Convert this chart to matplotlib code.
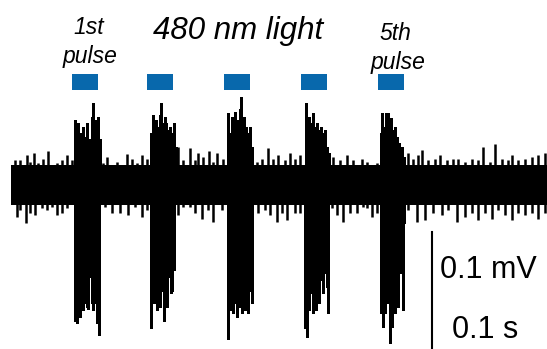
import matplotlib
matplotlib.use('Agg')
import matplotlib.pyplot as plt
import numpy as np

plt.rcParams['font.family'] = ['Liberation Sans', 'DejaVu Sans']

# time in ms, amplitude in uV (baseline = 0)
# noise band: peaks of the upper and lower edge
up_t = [1, 4, 9, 12, 16, 19, 23, 27, 32, 37, 41, 46, 51, 56, 61,
        92, 96, 101, 106, 111, 116, 121, 126, 131, 136,
        167, 172, 179, 184, 187, 192, 198, 202, 206, 212,
        246, 251, 257, 262, 267, 274, 279, 284, 289,
        322, 329, 336, 342, 351, 356, 361, 366,
        397, 402, 407, 411, 417, 424, 429, 436, 442, 447, 454, 461, 467,
        472, 479, 484, 491, 497, 501, 507, 514, 521, 527, 534]
up_v = [14, 21, 21, 15, 25, 19, 27, 18, 22, 28, 17, 18, 21, 25, 21,
        18, 23, 17, 19, 17, 26, 22, 18, 25, 22,
        32, 21, 31, 21, 27, 23, 28, 19, 27, 22,
        19, 22, 31, 22, 25, 21, 27, 22, 25,
        23, 21, 25, 21, 22, 19, 17, 18,
        27, 22, 25, 29, 21, 22, 25, 21, 22, 22, 19, 22, 21,
        32, 19, 34, 22, 21, 25, 21, 22, 23, 25, 27]
lo_t = [1, 6, 9, 15, 19, 24, 31, 36, 41, 46, 51, 56, 61,
        94, 101, 109, 117, 124, 131, 136,
        167, 172, 179, 184, 191, 197, 202, 211,
        247, 254, 259, 266, 271, 276, 284, 289,
        321, 326, 332, 339, 346, 352, 356, 361, 366,
        397, 406, 414, 422, 431, 437, 446, 454, 461, 467, 474, 481,
        487, 494, 501, 507, 514, 521, 527, 534]
lo_v = [-15, -27, -21, -32, -23, -25, -19, -21, -18, -25, -23, -19, -15,
        -18, -23, -23, -25, -18, -27, -21,
        -25, -18, -18, -23, -28, -21, -31, -21,
        -23, -21, -25, -31, -23, -29, -23, -23,
        -19, -25, -31, -23, -23, -18, -19, -27, -23,
        -21, -31, -29, -23, -25, -21, -31, -27, -23, -29, -23, -28,
        -21, -25, -29, -23, -25, -23, -28, -23]
core_top = 17           # solid part of the noise band
core_bot = -17
trace_end = 536

# spikes during the light pulses
spk_up_t = [64, 66, 67, 70, 72, 74, 76, 78, 81, 82, 84, 86, 87, 89,
            140, 142, 144, 145, 147, 149, 150, 152, 154, 155, 157, 159, 160, 163, 165,
            217, 219, 221, 222, 224, 226, 227, 229, 230, 232, 233, 235, 237, 239, 241,
            295, 296, 298, 301, 302, 304, 306, 307, 310, 312, 314, 316, 318,
            370, 371, 372, 375, 377, 380, 382, 384, 386, 388, 391, 393]
spk_up_v = [54, 38, 52, 43, 48, 40, 52, 38, 57, 68, 54, 48, 57, 38,
            43, 58, 46, 54, 48, 58, 68, 52, 57, 52, 46, 48, 43, 52, 32,
            60, 43, 57, 40, 61, 46, 54, 63, 73, 52, 57, 48, 43, 48, 32,
            68, 46, 57, 52, 60, 48, 52, 46, 48, 43, 46, 32, 27,
            43, 60, 48, 60, 60, 56, 46, 48, 40, 35, 32, 23]
spk_dn_t = [64, 66, 67, 69, 71, 72, 74, 76, 77, 79, 81, 82, 84, 86, 87, 88,
            140, 141, 143, 144, 146, 148, 149, 151, 153, 154, 156, 158, 160, 161, 163,
            217, 219, 221, 222, 224, 226, 227, 229, 231, 232, 234, 236, 237, 239, 241,
            294, 296, 298, 300, 302, 303, 305, 306, 308, 310, 312, 314, 316, 317,
            370, 372, 374, 376, 379, 381, 382, 384, 386, 387, 390, 392, 393]
spk_dn_v = [-113, -115, -93, -110, -88, -104, -98, -102, -103, -77, -98, -104, -98, -115, -46, -125,
            -119, -77, -98, -88, -104, -93, -102, -88, -113, -98, -102, -77, -90, -88, -71,
            -128, -104, -88, -107, -98, -110, -93, -102, -107, -88, -104, -93, -107, -88, -98,
            -119, -127, -104, -90, -107, -93, -104, -85, -98, -79, -90, -73, -85, -107,
            -107, -118, -107, -98, -132, -118, -90, -107, -79, -102, -73, -104, -32]
burst_start = [64, 140, 217, 294, 370]
burst_end = [89, 165, 241, 318, 393]
burst_top = 32
burst_bot = -33

# 480 nm light pulses
pulse_on = [61, 136, 213, 290, 367]
pulse_len = 26

fig = plt.figure(figsize=(5.47, 3.49), dpi=100)
ax = fig.add_axes([0, 0, 1, 1])
ax.set_xlim(-11, 536)
ax.set_ylim(-136.7, 154.2)
ax.axis('off')

# noise band: solid core + edge peaks
ax.fill_between([0, trace_end], core_bot, core_top, color='black', lw=0)
ax.vlines(up_t, 0, up_v, color='black', lw=1.8)
ax.vlines(lo_t, 0, lo_v, color='black', lw=1.8)

# bursts
for s, e in zip(burst_start, burst_end):
    ax.fill_between([s, e], burst_bot, burst_top, color='black', lw=0)
ax.vlines(spk_up_t, 0, spk_up_v, color='black', lw=0.8, antialiased=False)
ax.vlines(spk_dn_t, 0, spk_dn_v, color='black', lw=0.8, antialiased=False)

# pulse bars
ax.bar(pulse_on, 13.3, width=pulse_len, bottom=79.2, align='edge',
       color='#0868ac', edgecolor='none')

# scale bar (0.1 mV)
ax.plot([421, 421], [-39, -139], color='black', lw=1.5, clip_on=False)

fig.text(0.163, 0.920, '1st', ha='center', va='center', fontsize=16.5, style='italic')
fig.text(0.165, 0.837, 'pulse', ha='center', va='center', fontsize=16.5, style='italic')
fig.text(0.435, 0.911, '480 nm light', ha='center', va='center', fontsize=22.5, style='italic')
fig.text(0.722, 0.905, '5th', ha='center', va='center', fontsize=16.5, style='italic')
fig.text(0.727, 0.822, 'pulse', ha='center', va='center', fontsize=16.5, style='italic')
fig.text(0.892, 0.226, '0.1 mV', ha='center', va='center', fontsize=22)
fig.text(0.887, 0.054, '0.1 s', ha='center', va='center', fontsize=22)

fig.savefig('out.png', dpi=100)
